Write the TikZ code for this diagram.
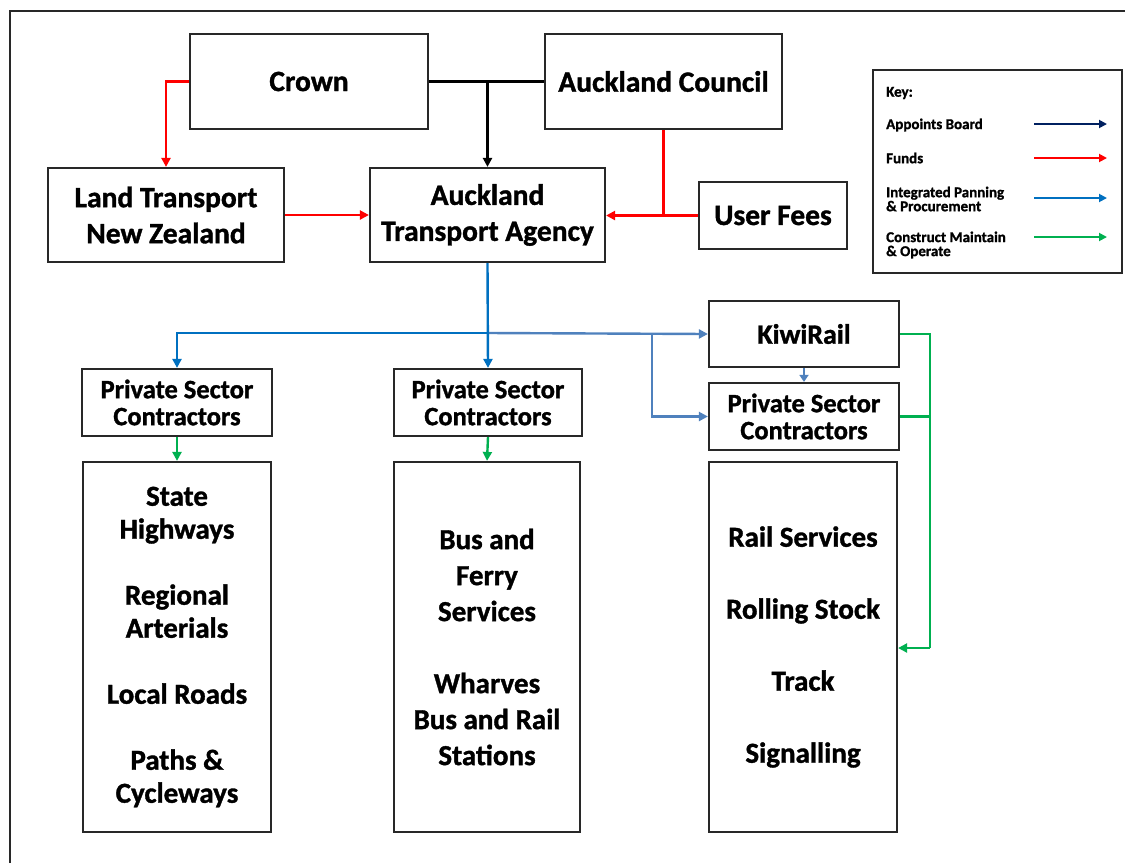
\documentclass[tikz,border=0pt]{standalone}
\usepackage{fontspec}
\setmainfont{Carlito}[BoldFeatures={FakeBold=1.2}]
\usetikzlibrary{arrows.meta}
\definecolor{frd}{RGB}{255,0,0}
\definecolor{fbl}{RGB}{0,112,192}
\definecolor{fsb}{RGB}{79,129,189}
\definecolor{fgr}{RGB}{0,176,80}
\definecolor{fnv}{RGB}{0,32,96}
\definecolor{fbox}{RGB}{40,40,40}
\begin{document}
\begin{tikzpicture}[x=1pt,y=-1pt,
  box/.style={draw=fbox,line width=2.2pt,fill=white,align=center,inner sep=0pt,
    font=\bfseries\fontsize{29.5}{36}\selectfont},
  smallbox/.style={box,font=\bfseries\fontsize{26.5}{27}\selectfont},
  listbox/.style={box,font=\bfseries\fontsize{29}{33}\selectfont},
  listboxb/.style={box,font=\bfseries\fontsize{29}{36}\selectfont},
  keytext/.style={anchor=west,align=left,inner sep=0pt,font=\bfseries\fontsize{15}{14}\selectfont},
  conn/.style={line width=2.4pt},
  tip/.style={-{Triangle[length=9pt,width=9pt]}},
  ktip/.style={line width=1.8pt,-{Triangle[length=8pt,width=8pt]}},
]
\useasboundingbox (0,0) rectangle (1125,863);
% outer frame
\draw[fbox,line width=2.2pt] (10,863) -- (10,11) -- (1125,11);

% top level
\node[box,minimum width=238,minimum height=95] (crown) at (309,81.5) {Crown};
\node[box,minimum width=237,minimum height=95] (council) at (663.5,81.5) {Auckland Council};
\node[box,minimum width=236,minimum height=94] (ltnz) at (166,215) {Land Transport\\New Zealand};
\node[box,minimum width=235,minimum height=94] (ata) at (487.5,215) {Auckland\\Transport Agency};
\node[box,minimum width=148,minimum height=67] (fees) at (773,215.5) {User Fees};

% key
\node[draw=fbox,line width=2.2pt,minimum width=249,minimum height=203,inner sep=0pt] (key) at (997.5,171.5) {};
\node[keytext] (k0) at (886,93) {Key:};
\node[keytext] (k1) at (886,125) {Appoints Board};
\node[keytext] (k2) at (886,158) {Funds};
\node[keytext] (k3) at (886,199) {Integrated Panning\\\& Procurement};
\node[keytext] (k4) at (886,245) {Construct Maintain\\\& Operate};
\coordinate (k1a) at (1034,124); \coordinate (k1b) at (1107,124);
\coordinate (k2a) at (1034,158); \coordinate (k2b) at (1107,158);
\coordinate (k3a) at (1034,198); \coordinate (k3b) at (1107,198);
\coordinate (k4a) at (1034,237); \coordinate (k4b) at (1107,237);
\draw[fnv,ktip] (k1a) -- (k1b);
\draw[frd,ktip] (k2a) -- (k2b);
\draw[fbl,ktip] (k3a) -- (k3b);
\draw[fgr,ktip] (k4a) -- (k4b);

% second level
\node[smallbox,minimum width=190,minimum height=67] (psc1) at (177,402.5) {Private Sector\\Contractors};
\node[smallbox,minimum width=188,minimum height=67] (psc2) at (488,402.5) {Private Sector\\Contractors};
\node[smallbox,minimum width=190,minimum height=66,font=\bfseries\fontsize{28}{27}\selectfont] (kiwi) at (804,334) {KiwiRail};
\node[smallbox,minimum width=190,minimum height=67] (psc3) at (804,416.5) {Private Sector\\Contractors};

% bottom boxes
\node[listbox,minimum width=188,minimum height=370] (big1) at (177,647)
  {State\\Highways\\[33pt]Regional\\Arterials\\[33pt]Local Roads\\[33pt]Paths \&\\Cycleways};
\node[listboxb,minimum width=186,minimum height=370] (big2) at (487,647)
  {Bus and\\Ferry\\Services\\[36pt]Wharves\\Bus and Rail\\Stations};
\node[listboxb,minimum width=188,minimum height=370] (big3) at (803,647)
  {Rail Services\\[36pt]Rolling Stock\\[36pt]Track\\[36pt]Signalling};

% black: crown/council -> ATA
\coordinate (j1) at (ata.north |- crown.east);
\draw[conn,black] (crown.east) -- (council.west);
\draw[conn,black,tip] (j1) -- (ata.north);

% red funds
\coordinate (r1) at (166,81.5);
\draw[conn,frd,tip] (crown.west) -- (r1) -- (ltnz.north);
\draw[conn,frd,tip] (ltnz.east) -- (ata.west);
\coordinate (r2) at (council.south |- fees.west);
\draw[conn,frd] (council.south) -- (r2);
\draw[conn,frd,tip] (fees.west) -- (ata.east |- fees.west);

% blue planning
\coordinate (b0) at (488,333);
\coordinate (b1) at (652,333);
\coordinate (b2) at (652,416.5);
\draw[conn,fsb,tip] (b0) -- (kiwi.west);
\draw[conn,fsb,tip] (b1) -- (b2) -- (psc3.west);
\draw[conn,fbl,tip] (ata.south) -- (psc2.north);
\draw[conn,fbl,tip] (b0) -| (psc1.north);
\draw[line width=2.2pt,fsb,-{Triangle[length=7pt,width=9pt]}] (kiwi.south) -- (psc3.north);

% green construct
\draw[conn,fgr,tip] (psc1.south) -- (big1.north);
\draw[conn,fgr,tip] (psc2.south) -- (big2.north);
\coordinate (g1) at (930,334);
\coordinate (g2) at (930,416.5);
\coordinate (g3) at (930,648);
\draw[conn,fgr] (kiwi.east) -- (g1) -- (g3);
\draw[conn,fgr] (psc3.east) -- (g2);
\draw[conn,fgr,tip] (g3) -- (big3.east |- g3);
\end{tikzpicture}
\end{document}
